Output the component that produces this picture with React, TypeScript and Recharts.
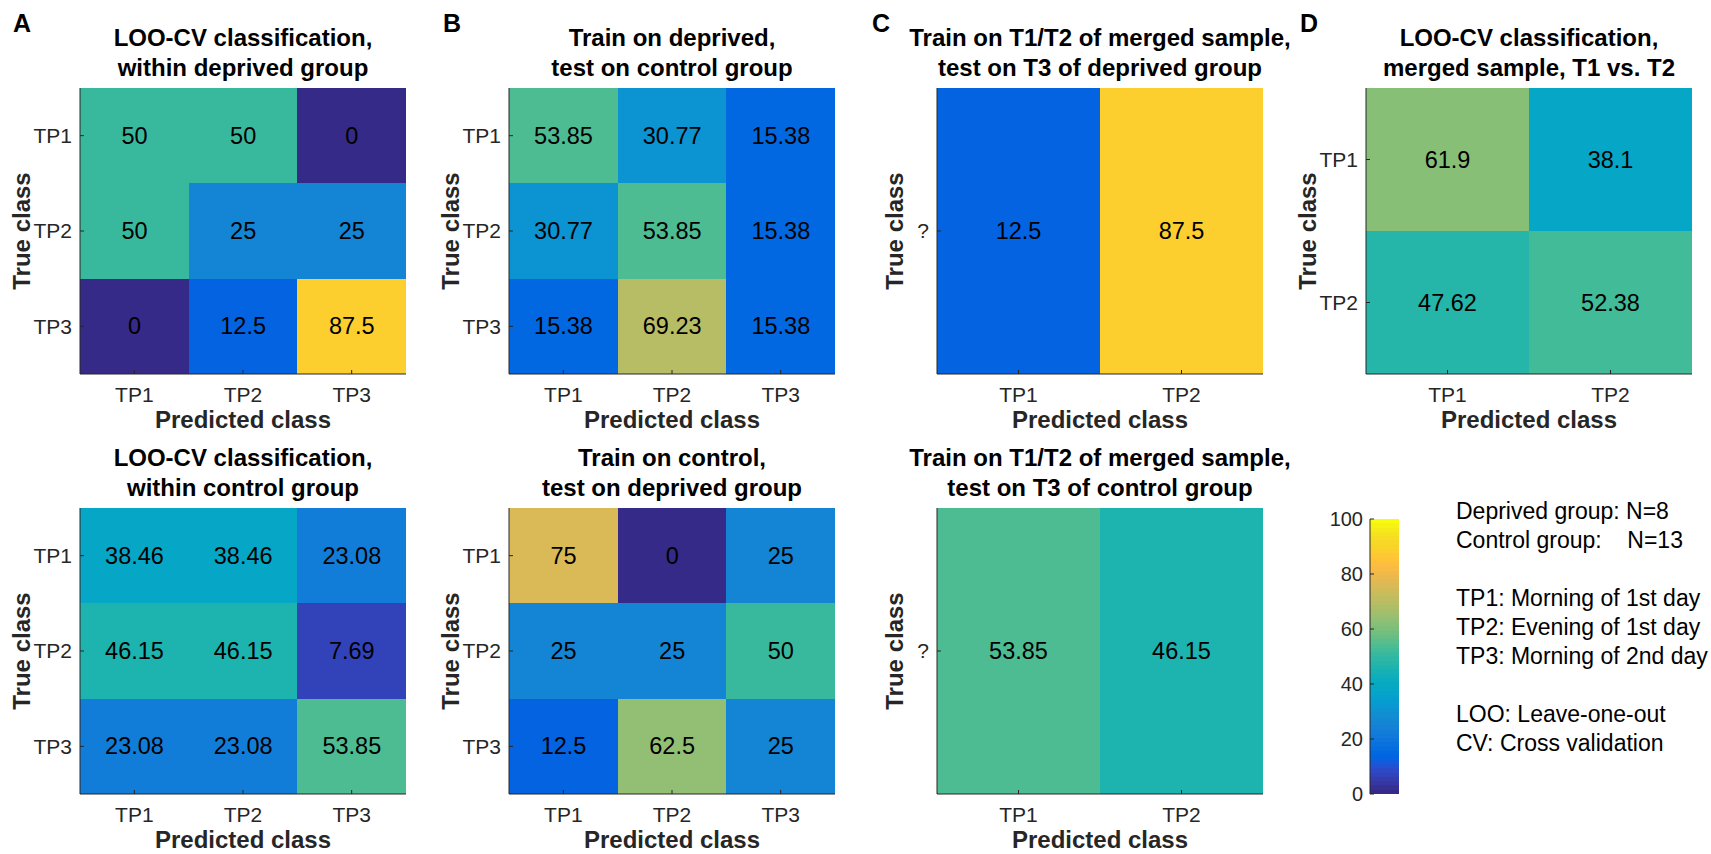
import React from "react"
import { BarChart, Bar, Cell, XAxis, YAxis } from "recharts"

const FONT = '"Liberation Sans", Arial, Helvetica, sans-serif'
const INK = "#262626"

// class labels
const threeClasses = ["TP1", "TP2", "TP3"]
const twoClasses = ["TP1", "TP2"]
const unknownClass = ["?"]

// confusion matrices, rows = true class, cols = predicted class (%)
const loocvDeprived = [
  [50, 50, 0],
  [50, 25, 25],
  [0, 12.5, 87.5],
]
const loocvControl = [
  [38.46, 38.46, 23.08],
  [46.15, 46.15, 7.69],
  [23.08, 23.08, 53.85],
]
const trainDeprivedTestControl = [
  [53.85, 30.77, 15.38],
  [30.77, 53.85, 15.38],
  [15.38, 69.23, 15.38],
]
const trainControlTestDeprived = [
  [75, 0, 25],
  [25, 25, 50],
  [12.5, 62.5, 25],
]
const mergedTestDeprivedT3 = [[12.5, 87.5]]
const mergedTestControlT3 = [[53.85, 46.15]]
const loocvMergedT1T2 = [
  [61.9, 38.1],
  [47.62, 52.38],
]

const colorLimits = [0, 100]
const colorbarTicks = [0, 20, 40, 60, 80, 100]

// MATLAB parula, 64 entries
const PARULA = [
  [0.2081, 0.1663, 0.5292], [0.2116, 0.1898, 0.5777], [0.2123, 0.2138, 0.627], [0.2081, 0.2386, 0.6771],
  [0.1959, 0.2645, 0.7279], [0.1707, 0.2919, 0.7792], [0.1253, 0.3242, 0.8303], [0.0591, 0.3598, 0.8683],
  [0.0117, 0.3875, 0.882], [0.006, 0.4086, 0.8828], [0.0165, 0.4266, 0.8786], [0.0329, 0.443, 0.872],
  [0.0498, 0.4586, 0.8641], [0.0629, 0.4737, 0.8554], [0.0723, 0.4887, 0.8467], [0.0779, 0.504, 0.8384],
  [0.0793, 0.52, 0.8312], [0.0749, 0.5375, 0.8263], [0.0641, 0.557, 0.824], [0.0488, 0.5772, 0.8228],
  [0.0343, 0.5966, 0.8199], [0.0265, 0.6137, 0.8135], [0.0239, 0.6287, 0.8038], [0.0231, 0.6418, 0.7913],
  [0.0228, 0.6535, 0.7768], [0.0267, 0.6642, 0.7607], [0.0384, 0.6743, 0.7436], [0.059, 0.6838, 0.7254],
  [0.0843, 0.6928, 0.7062], [0.1133, 0.7015, 0.6859], [0.1453, 0.7098, 0.6646], [0.1801, 0.7177, 0.6424],
  [0.2178, 0.725, 0.6193], [0.2586, 0.7317, 0.5954], [0.3022, 0.7376, 0.5712], [0.3482, 0.7424, 0.5473],
  [0.3953, 0.7459, 0.5244], [0.442, 0.7481, 0.5033], [0.4871, 0.7491, 0.484], [0.53, 0.7491, 0.4661],
  [0.5709, 0.7485, 0.4494], [0.6099, 0.7473, 0.4337], [0.6473, 0.7456, 0.4188], [0.6834, 0.7435, 0.4044],
  [0.7184, 0.7411, 0.3905], [0.7525, 0.7384, 0.3768], [0.7858, 0.7356, 0.3633], [0.8185, 0.7327, 0.3498],
  [0.8507, 0.7299, 0.336], [0.8824, 0.7274, 0.3217], [0.9139, 0.7258, 0.3063], [0.945, 0.7261, 0.2886],
  [0.9739, 0.7314, 0.2666], [0.9938, 0.7455, 0.2403], [0.999, 0.7653, 0.2164], [0.9955, 0.7861, 0.1967],
  [0.988, 0.8066, 0.1794], [0.9789, 0.8271, 0.1633], [0.9697, 0.8481, 0.1475], [0.9626, 0.8705, 0.1309],
  [0.9589, 0.8949, 0.1132], [0.9598, 0.9218, 0.0948], [0.9661, 0.9514, 0.0755], [0.9763, 0.9831, 0.0538],
]

const rgb = (c: number[]) => `rgb(${c.map((v) => Math.round(v * 255)).join(",")})`

// same binning as MATLAB's scaled colormap lookup
function parula(v: number) {
  const n = PARULA.length
  const t = (v - colorLimits[0]) / (colorLimits[1] - colorLimits[0])
  const i = Math.min(n - 1, Math.max(0, Math.floor(t * n)))
  return rgb(PARULA[i])
}

const PW = 326
const PH = 286
const YW = 80
const XH = 60
const M = 4
const axisStroke = { stroke: INK, strokeWidth: 1 }

// tick text with explicit size, label picked by fmt
const tickText = (size: number, dy: string, fmt: (v: any) => string) => (p: any) => (
  <text x={p.x} y={p.y} dy={dy} textAnchor={p.textAnchor} fontSize={size} fill={INK}>
    {fmt(p.payload.value)}
  </text>
)

type HeatmapProps = {
  x: number
  y: number
  values: number[][]
  rows: string[]
  cols: string[]
}

function Heatmap({ x, y, values, rows, cols }: HeatmapProps) {
  const nR = rows.length
  const nC = cols.length
  const data = cols.map((c) => ({ pred: c }))
  const yTicks = rows.map((_, i) => nR - i - 0.5)
  const xTicks = cols.map((_, j) => j + 0.5)

  return (
    <div style={{ position: "absolute", left: x - YW, top: y - M }}>
      <BarChart
        width={YW + PW + M}
        height={M + PH + XH}
        data={data}
        margin={{ top: M, right: M, bottom: 0, left: 0 }}
        barCategoryGap={0}
        barGap={0}
      >
        <XAxis
          dataKey="pred"
          height={XH}
          interval={0}
          axisLine={axisStroke}
          tickLine={axisStroke}
          tickSize={-4}
          tickMargin={17}
          tick={tickText(21, "0.71em", (v) => String(v))}
        />
        <XAxis
          xAxisId="top"
          orientation="top"
          type="number"
          domain={[0, nC]}
          ticks={xTicks}
          height={0}
          axisLine={axisStroke}
          tickLine={axisStroke}
          tickSize={-4}
          tick={false}
        />
        <YAxis
          type="number"
          domain={[0, nR]}
          ticks={yTicks}
          interval={0}
          width={YW}
          axisLine={axisStroke}
          tickLine={axisStroke}
          tickSize={-4}
          tickMargin={12}
          tick={tickText(21, "0.355em", (v: number) => rows[Math.round(nR - 0.5 - v)])}
        />
        <YAxis
          yAxisId="right"
          orientation="right"
          type="number"
          domain={[0, nR]}
          ticks={yTicks}
          width={0}
          axisLine={axisStroke}
          tickLine={axisStroke}
          tickSize={-4}
          tick={false}
        />
        {rows.map((_, k) => {
          const r = nR - 1 - k
          return (
            <Bar
              key={r}
              dataKey={() => 1}
              stackId="m"
              isAnimationActive={false}
              label={(p: any) => (
                <text
                  x={p.x + p.width / 2}
                  y={p.y + p.height / 2}
                  textAnchor="middle"
                  dominantBaseline="central"
                  fontSize={23.5}
                  fill="#000"
                >
                  {values[r][p.index]}
                </text>
              )}
            >
              {cols.map((_, j) => (
                <Cell key={j} fill={parula(values[r][j])} shapeRendering="crispEdges" />
              ))}
            </Bar>
          )
        })}
      </BarChart>
    </div>
  )
}

function Colorbar({ x, y, w, h }: { x: number; y: number; w: number; h: number }) {
  const cw = 60
  const stops: React.ReactNode[] = []
  PARULA.forEach((c, i) => {
    stops.push(<stop key={`a${i}`} offset={i / PARULA.length} stopColor={rgb(c)} />)
    stops.push(<stop key={`b${i}`} offset={(i + 1) / PARULA.length} stopColor={rgb(c)} />)
  })
  return (
    <div style={{ position: "absolute", left: x - cw, top: y - 12 }}>
      <BarChart
        width={cw + w + M}
        height={h + 24}
        data={[{ lo: colorLimits[0], hi: colorLimits[1] }]}
        margin={{ top: 12, right: M, bottom: 12, left: 0 }}
        barCategoryGap={0}
      >
        <defs>
          <linearGradient id="parulaGrad" x1="0" y1="1" x2="0" y2="0">
            {stops}
          </linearGradient>
        </defs>
        <XAxis height={0} axisLine={axisStroke} tickLine={false} tick={false} />
        <XAxis xAxisId="top" orientation="top" height={0} axisLine={axisStroke} tickLine={false} tick={false} />
        <YAxis
          type="number"
          domain={colorLimits}
          ticks={colorbarTicks}
          interval={0}
          width={cw}
          axisLine={axisStroke}
          tickLine={axisStroke}
          tickSize={-4}
          tickMargin={11}
          tick={tickText(20, "0.355em", (v) => String(v))}
        />
        <YAxis
          yAxisId="right"
          orientation="right"
          type="number"
          domain={colorLimits}
          width={0}
          axisLine={axisStroke}
          tickLine={false}
          tick={false}
        />
        <Bar dataKey="hi" fill="url(#parulaGrad)" isAnimationActive={false} />
      </BarChart>
    </div>
  )
}

const titleStyle: React.CSSProperties = {
  position: "absolute",
  width: 520,
  textAlign: "center",
  fontSize: 24,
  fontWeight: "bold",
  lineHeight: "30px",
  color: "#000",
  whiteSpace: "pre",
}

function Panel({
  x,
  y,
  title,
  values,
  rows,
  cols,
  ylabGap = 50,
}: HeatmapProps & { title: string; ylabGap?: number }) {
  const cx = x + PW / 2
  const cy = y + PH / 2
  return (
    <>
      <div style={{ ...titleStyle, left: cx - 260, top: y - 65 }}>{title}</div>
      <Heatmap x={x} y={y} values={values} rows={rows} cols={cols} />
      <div
        style={{
          position: "absolute",
          left: cx - 150,
          top: y + PH + 31,
          width: 300,
          textAlign: "center",
          fontSize: 24,
          fontWeight: "bold",
          lineHeight: "30px",
          color: INK,
        }}
      >
        Predicted class
      </div>
      <div
        style={{
          position: "absolute",
          left: x - ylabGap - 8.3 - 100,
          top: cy - 15,
          width: 200,
          textAlign: "center",
          fontSize: 24,
          fontWeight: "bold",
          lineHeight: "30px",
          color: INK,
          transform: "rotate(-90deg)",
        }}
      >
        True class
      </div>
    </>
  )
}

const letterStyle: React.CSSProperties = {
  position: "absolute",
  top: 11,
  fontSize: 25,
  fontWeight: "bold",
  lineHeight: "25px",
  color: "#000",
}

const notes = [
  "Deprived group: N=8",
  "Control group:    N=13",
  "",
  "TP1: Morning of 1st day",
  "TP2: Evening of 1st day",
  "TP3: Morning of 2nd day",
  "",
  "LOO: Leave-one-out",
  "CV: Cross validation",
]

export default function App() {
  return (
    <div
      style={{
        position: "absolute",
        left: 0,
        top: 0,
        width: 1711,
        height: 854,
        background: "#fff",
        fontFamily: FONT,
        overflow: "hidden",
      }}
    >
      <div style={{ ...letterStyle, left: 13 }}>A</div>
      <div style={{ ...letterStyle, left: 443 }}>B</div>
      <div style={{ ...letterStyle, left: 872 }}>C</div>
      <div style={{ ...letterStyle, left: 1300 }}>D</div>

      <Panel x={80} y={88} title={"LOO-CV classification,\nwithin deprived group"} values={loocvDeprived} rows={threeClasses} cols={threeClasses} />
      <Panel x={509} y={88} title={"Train on deprived,\ntest on control group"} values={trainDeprivedTestControl} rows={threeClasses} cols={threeClasses} />
      <Panel x={937} y={88} title={"Train on T1/T2 of merged sample,\ntest on T3 of deprived group"} values={mergedTestDeprivedT3} rows={unknownClass} cols={twoClasses} ylabGap={34} />
      <Panel x={1366} y={88} title={"LOO-CV classification,\nmerged sample, T1 vs. T2"} values={loocvMergedT1T2} rows={twoClasses} cols={twoClasses} />

      <Panel x={80} y={508} title={"LOO-CV classification,\nwithin control group"} values={loocvControl} rows={threeClasses} cols={threeClasses} />
      <Panel x={509} y={508} title={"Train on control,\ntest on deprived group"} values={trainControlTestDeprived} rows={threeClasses} cols={threeClasses} />
      <Panel x={937} y={508} title={"Train on T1/T2 of merged sample,\ntest on T3 of control group"} values={mergedTestControlT3} rows={unknownClass} cols={twoClasses} ylabGap={34} />

      <Colorbar x={1370} y={519} w={29} h={275} />

      <div
        style={{
          position: "absolute",
          left: 1456,
          top: 497,
          fontSize: 23,
          lineHeight: "29px",
          color: "#000",
          whiteSpace: "pre",
        }}
      >
        {notes.map((line, i) => (
          <div key={i} style={{ height: 29 }}>
            {line}
          </div>
        ))}
      </div>
    </div>
  )
}
